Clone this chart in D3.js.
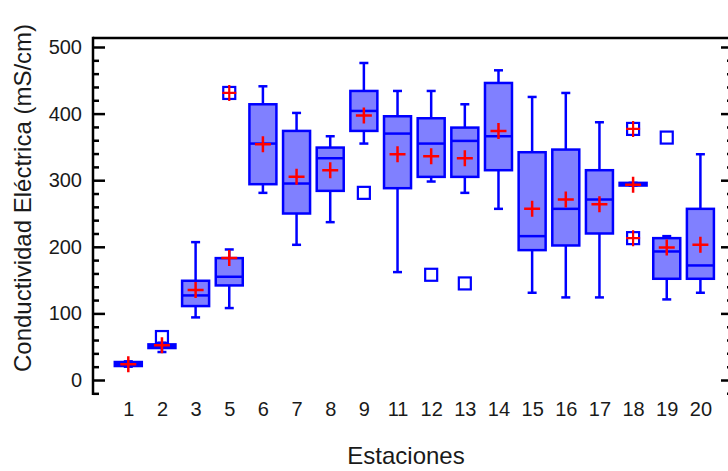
<!DOCTYPE html>
<html><head><meta charset="utf-8">
<script src="https://cdn.jsdelivr.net/npm/d3@7"></script>
<style>body{margin:0;background:#fff}svg{display:block;font-family:"Liberation Sans",Arial,sans-serif}</style>
</head><body><svg id="c" width="728" height="471"></svg>
<script>
const categories = ["1","2","3","5","6","7","8","9","11","12","13","14","15","16","17","18","19","20"];
const whiskerLow  = [20, 42, 94, 108, 281, 203, 237, 355, 162, 298, 281, 257, 131, 124, 124, 292, 121, 131];
const q1          = [21, 48, 111, 142, 294, 250, 284, 374, 288, 305, 305, 315, 195, 202, 220, 292, 152, 152];
const median      = [24, 51, 127, 155, 355, 295, 333, 404, 370, 355, 359, 366, 216, 257, 271, 294, 193, 172];
const q3          = [27, 53.5, 149, 183, 414, 374, 349, 434, 396, 393, 379, 446, 342, 346, 315, 296, 213, 257];
const whiskerHigh = [28, 56, 207, 196, 441, 401, 366, 476, 434, 434, 414, 465, 425, 431, 387, 296, 216, 339];
const means       = [23.5, 52, 135, 183, 354, 305, 315, 397, 339, 336, 333, 374, 257, 271, 264, 293, 199, 203];
const outlierCats = ["2", "9", "12", "13", "19"];
const outlierVals = [64.5, 281, 158, 145, 364];
const farCats = ["5", "18", "18"];
const farVals = [431, 377, 213];
const majorTicks = [0, 100, 200, 300, 400, 500];
const minorTicks = d3.range(-20, 501, 20).filter(v => v % 100 !== 0);

const svg = d3.select("#c");
const L = 93, R = 733, T = 38, B = 395;
const y = d3.scaleLinear().domain([0, 500]).range([380, 47]);
const x = d3.scalePoint().domain(categories).range([128.3, 700.4]);
const blue = "#0000ff", fill = "#8080ff", red = "#ff0000";
const bw = 27, cap = 9, sw = 2.5;
const txt = "#1a1a1a";

// frame
svg.append("line").attr("x1", L).attr("x2", R).attr("y1", T).attr("y2", T).attr("stroke", "#000").attr("stroke-width", 2.5);
svg.append("line").attr("x1", L).attr("x2", L).attr("y1", T - 1.25).attr("y2", B).attr("stroke", "#000").attr("stroke-width", 2.5);
svg.append("line").attr("x1", R).attr("x2", R).attr("y1", T - 1.25).attr("y2", B).attr("stroke", "#000").attr("stroke-width", 2.5);

function styleAxis(g){ g.select(".domain").remove(); g.selectAll("line").attr("stroke","#000").attr("stroke-width",2.5); }
svg.append("g").attr("transform", `translate(${L},0)`)
  .call(d3.axisLeft(y).tickValues(majorTicks).tickSize(-12).tickPadding(11))
  .call(styleAxis)
  .call(g => g.selectAll("text").attr("font-size", 20).attr("fill", txt).attr("font-family","Liberation Sans, Arial, sans-serif"));
svg.append("g").attr("transform", `translate(${L},0)`)
  .call(d3.axisLeft(y).tickValues(minorTicks).tickSize(-6).tickFormat(""))
  .call(styleAxis);
svg.append("g").attr("transform", `translate(${R},0)`)
  .call(d3.axisRight(y).tickValues(majorTicks).tickSize(-12).tickFormat(""))
  .call(styleAxis);
svg.append("g").attr("transform", `translate(${R},0)`)
  .call(d3.axisRight(y).tickValues(minorTicks).tickSize(-6).tickFormat(""))
  .call(styleAxis);

svg.append("g").attr("transform", `translate(0,${B})`)
  .call(d3.axisBottom(x).tickSize(0).tickPadding(7))
  .call(g => g.select(".domain").remove())
  .call(g => g.selectAll("text").attr("font-size", 20).attr("fill", txt).attr("font-family","Liberation Sans, Arial, sans-serif"));

// titles
svg.append("text").attr("x", 406).attr("y", 464).attr("text-anchor", "middle")
  .attr("font-size", 24).attr("fill", txt).text("Estaciones");
svg.append("text").attr("transform", "translate(31,198) rotate(-90)").attr("text-anchor", "middle")
  .attr("font-size", 24).attr("fill", txt).text("Conductividad Eléctrica (mS/cm)");

// boxes
const gB = svg.append("g");
categories.forEach((c, i) => {
  const cx = x(c);
  const g = gB.append("g");
  g.append("line").attr("x1", cx).attr("x2", cx).attr("y1", y(whiskerLow[i])).attr("y2", y(q1[i])).attr("stroke", blue).attr("stroke-width", sw);
  g.append("line").attr("x1", cx).attr("x2", cx).attr("y1", y(q3[i])).attr("y2", y(whiskerHigh[i])).attr("stroke", blue).attr("stroke-width", sw);
  g.append("line").attr("x1", cx - cap/2).attr("x2", cx + cap/2).attr("y1", y(whiskerLow[i])).attr("y2", y(whiskerLow[i])).attr("stroke", blue).attr("stroke-width", sw);
  g.append("line").attr("x1", cx - cap/2).attr("x2", cx + cap/2).attr("y1", y(whiskerHigh[i])).attr("y2", y(whiskerHigh[i])).attr("stroke", blue).attr("stroke-width", sw);
  g.append("rect").attr("x", cx - bw/2).attr("width", bw).attr("y", y(q3[i])).attr("height", Math.max(0.5, y(q1[i]) - y(q3[i])))
    .attr("fill", fill).attr("stroke", blue).attr("stroke-width", sw);
  g.append("line").attr("x1", cx - bw/2).attr("x2", cx + bw/2).attr("y1", y(median[i])).attr("y2", y(median[i])).attr("stroke", blue).attr("stroke-width", sw);
});

// outliers
const sq = 12;
outlierCats.forEach((c, i) => {
  svg.append("rect").attr("x", x(c) - sq/2).attr("y", y(outlierVals[i]) - sq/2).attr("width", sq).attr("height", sq)
    .attr("fill", "none").attr("stroke", blue).attr("stroke-width", 2.2);
});
farCats.forEach((c, i) => {
  const cx = x(c), cy = y(farVals[i]);
  svg.append("rect").attr("x", cx - sq/2).attr("y", cy - sq/2).attr("width", sq).attr("height", sq)
    .attr("fill", "none").attr("stroke", blue).attr("stroke-width", 2.2);
  svg.append("path").attr("d", `M${cx-7},${cy}H${cx+7}M${cx},${cy-8}V${cy+8}`).attr("stroke", red).attr("stroke-width", 2.2).attr("fill","none");
});

// means
categories.forEach((c, i) => {
  const cx = x(c), cy = y(means[i]);
  svg.append("path").attr("d", `M${cx-8},${cy}H${cx+8}M${cx},${cy-8}V${cy+8}`).attr("stroke", red).attr("stroke-width", 2.5).attr("fill","none");
});
</script></body></html>
